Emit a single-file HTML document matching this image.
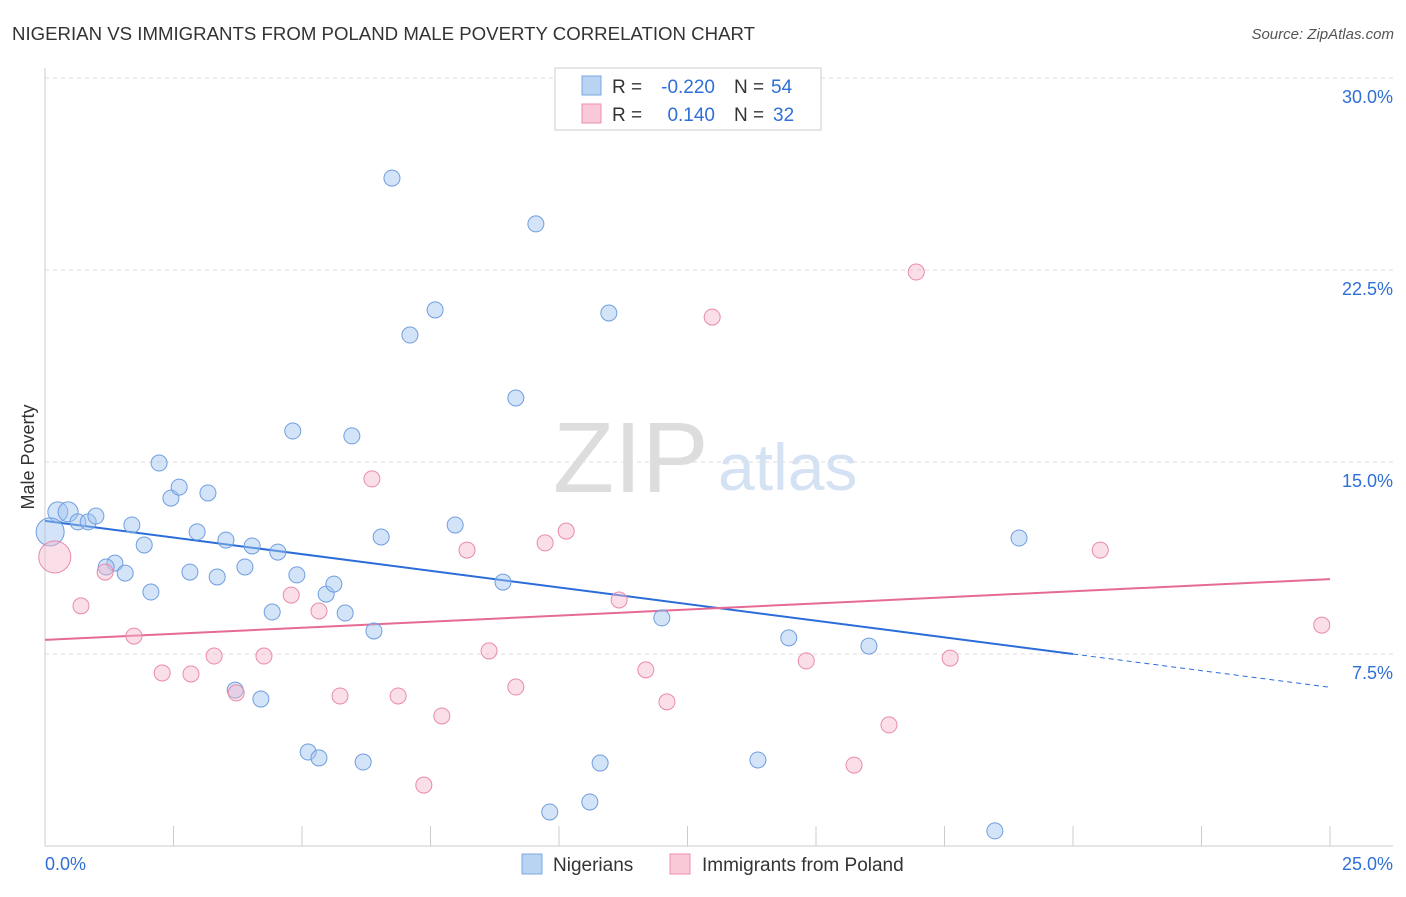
<!DOCTYPE html>
<html><head><meta charset="utf-8"><style>
body{margin:0;background:#fff;font-family:"Liberation Sans",sans-serif}
svg text{font-family:"Liberation Sans",sans-serif}
</style></head><body>
<svg id="c" width="1406" height="892">
<text x="12" y="40" font-size="18" fill="#333" textLength="743" lengthAdjust="spacingAndGlyphs">NIGERIAN VS IMMIGRANTS FROM POLAND MALE POVERTY CORRELATION CHART</text>
<text x="1394" y="39" font-size="15" fill="#555" font-style="italic" text-anchor="end">Source: ZipAtlas.com</text>
<text x="34" y="457" font-size="18" fill="#333" transform="rotate(-90 34 457)" text-anchor="middle">Male Poverty</text>
<text x="553" y="492" font-size="100" fill="#ddd" font-family="Liberation Serif">ZIP</text>
<text x="718" y="490" font-size="66" fill="#d4e2f4">atlas</text>
<g id="grid"></g><g id="axes"></g><g id="trend"></g><g id="pts"></g>
<g>
<rect x="555" y="68" width="266" height="62" fill="#fff" stroke="#ccc"/>
<rect x="582" y="76" width="19" height="19" fill="#b9d3f3" stroke="#7aa7e0"/>
<rect x="582" y="104" width="19" height="19" fill="#f9c9d8" stroke="#eb8fae"/>
<text x="612" y="93" font-size="19" fill="#333">R =</text>
<text x="715" y="93" font-size="19" fill="#2f6fd6" text-anchor="end">-0.220</text>
<text x="734" y="93" font-size="19" fill="#333">N =</text>
<text x="771" y="93" font-size="19" fill="#2f6fd6">54</text>
<text x="612" y="121" font-size="19" fill="#333">R =</text>
<text x="715" y="121" font-size="19" fill="#2f6fd6" text-anchor="end">0.140</text>
<text x="734" y="121" font-size="19" fill="#333">N =</text>
<text x="773" y="121" font-size="19" fill="#2f6fd6">32</text>
</g>
<g>
<rect x="522" y="854" width="20" height="20" fill="#b9d3f3" stroke="#7aa7e0"/>
<text x="553" y="871" font-size="19" fill="#333">Nigerians</text>
<rect x="670" y="854" width="20" height="20" fill="#f9c9d8" stroke="#eb8fae"/>
<text x="702" y="871" font-size="19" fill="#333">Immigrants from Poland</text>
</g>
</svg>
<script>
const yTicks=[7.5,15,22.5,30];
const yTickLabels=["7.5%","15.0%","22.5%","30.0%"];
const xTickLabels=["0.0%","25.0%"];
const blueX=[0.25,0.45,0.64,0.84,0.99,0.10,1.69,1.36,1.19,1.56,1.93,2.06,2.22,2.45,2.61,2.96,3.17,2.82,3.35,3.52,3.89,4.03,4.42,4.53,4.90,4.82,5.47,5.62,5.84,5.97,6.40,6.54,6.75,7.10,7.59,7.98,8.91,9.16,9.55,10.97,12.00,3.70,4.20,5.12,5.33,6.19,9.82,10.60,10.80,13.87,14.47,16.03,18.48,18.95];
const blueY=[13.05,13.05,12.66,12.66,12.89,12.27,12.54,11.05,10.90,10.66,11.76,9.92,14.96,13.59,14.02,12.27,13.79,10.70,10.51,11.95,10.90,11.72,9.14,11.48,10.59,16.21,9.84,10.23,9.10,16.02,8.40,12.07,26.09,19.96,20.94,12.54,10.31,17.50,24.30,20.82,8.91,6.09,5.74,3.67,3.44,3.28,1.33,1.72,3.24,3.36,8.13,7.81,0.59,12.03];
const pinkX=[0.19,0.70,1.17,1.73,2.28,2.84,3.29,3.72,4.26,4.79,5.33,5.74,6.36,6.87,7.72,7.37,8.21,8.64,9.16,9.73,10.14,11.17,11.69,12.10,12.98,14.81,15.74,16.42,16.95,17.61,20.53,24.84];
const pinkY=[11.29,9.38,10.70,8.20,6.76,6.72,7.42,5.98,7.42,9.80,9.18,5.86,14.34,5.86,5.08,2.38,11.56,7.62,6.21,11.84,12.30,9.61,6.88,5.63,20.66,7.23,3.16,4.73,22.42,7.34,11.56,8.63];
const blueTrend=[12.7,-0.26];
const pinkTrend=[8.05,0.095];
const NS="http://www.w3.org/2000/svg";
const X=v=>45+v*51.4, Y=v=>846-v*25.6;
function mk(t,a,p){const e=document.createElementNS(NS,t);for(const k in a)e.setAttribute(k,a[k]);p.appendChild(e);return e;}
const grid=document.getElementById('grid'),axes=document.getElementById('axes'),trend=document.getElementById('trend'),pts=document.getElementById('pts');
yTicks.forEach((v,i)=>{
 const l=mk('line',{x1:45,x2:1393,y1:Y(v),y2:Y(v),stroke:'#ddd','stroke-dasharray':'4,4'},grid);
 
 
 const t=mk('text',{x:1393,y:Y(v)+25,'font-size':18,fill:'#2f6fd6','text-anchor':'end'},grid);
 t.textContent=yTickLabels[i];
 
 
});
const ax=mk('line',{x1:45,x2:45,y1:68,y2:846,stroke:'#ccc'},axes);


const bx=mk('line',{x1:45,x2:1393,y1:846,y2:846,stroke:'#ccc'},axes);


for(let i=1;i<=10;i++){const tk=mk('line',{x1:X(i*2.5),x2:X(i*2.5),y1:826,y2:846,stroke:'#ccc'},axes);
 
 }
[[0,'start',45],[1,'end',1393]].forEach(([i,a,x])=>{const t=mk('text',{x:x,y:870,'font-size':18,fill:'#2f6fd6','text-anchor':a},axes);t.textContent=xTickLabels[i];
 
 });
const bt=(x)=>blueTrend[0]+blueTrend[1]*x, pt=(x)=>pinkTrend[0]+pinkTrend[1]*x;
const l1=mk('line',{x1:X(0),y1:Y(bt(0)),x2:X(20),y2:Y(bt(20)),stroke:'#2a6dd9','stroke-width':2},trend);


const l2=mk('line',{x1:X(20),y1:Y(bt(20)),x2:X(25),y2:Y(bt(25)),stroke:'#2a6dd9','stroke-width':1,'stroke-dasharray':'5,4'},trend);


const l3=mk('line',{x1:X(0),y1:Y(pt(0)),x2:X(25),y2:Y(pt(25)),stroke:'#e56b96','stroke-width':2},trend);


blueX.forEach((x,i)=>{const r=i==5?14:(i<2?10:8);const c=mk('circle',{cx:X(x),cy:Y(blueY[i]),r:r,fill:'rgba(160,196,240,0.45)',stroke:'#6f9ee0','stroke-width':1},pts);
 
 });
pinkX.forEach((x,i)=>{const r=i==0?16:8;const c=mk('circle',{cx:X(x),cy:Y(pinkY[i]),r:r,fill:'rgba(247,185,205,0.45)',stroke:'#e98aab','stroke-width':1},pts);
 
 });
</script>
</body></html>
